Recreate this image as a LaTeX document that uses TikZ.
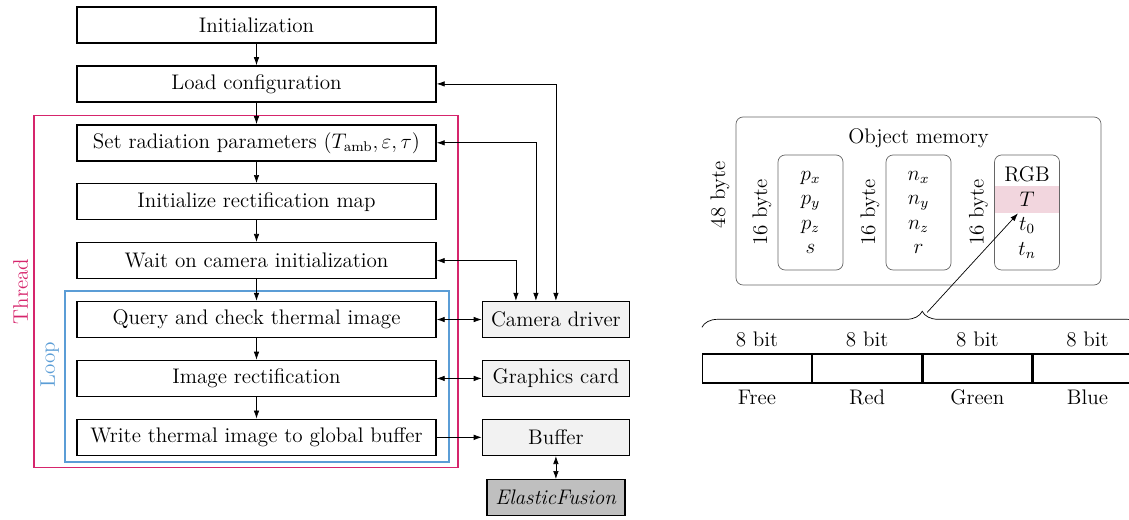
\documentclass[tikz,border=0pt]{standalone}
\usepackage{amsmath}
\usepackage{xcolor}
\usepackage{tikz}
\usetikzlibrary{arrows.meta,positioning,calc,backgrounds,decorations.pathreplacing}

\definecolor{threadcol}{RGB}{214,37,108}
\definecolor{loopcol}{RGB}{91,157,214}
\definecolor{tmark}{RGB}{242,214,222}

\begin{document}
\begin{tikzpicture}[
  node distance=0.43cm and 0.9cm,
  box/.style={draw, thick, minimum width=7.18cm, minimum height=0.72cm, align=center, font=\large},
  ext/.style={draw, thick, fill=gray!10, minimum width=2.94cm, minimum height=0.72cm, align=center, font=\large},
  frame/.style={draw=#1, line width=1pt},
  mem/.style={draw=black!60, rounded corners=4pt, minimum width=7.3cm, minimum height=3.36cm},
  field/.style={draw=black!60, rounded corners=4pt, minimum width=1.3cm, minimum height=2.3cm, align=center, font=\large},
  tband/.style={fill=tmark, minimum width=1.3cm, minimum height=0.54cm, inner sep=0pt},
  side/.style={rotate=90, anchor=south, font=\large},
  bitbox/.style={draw, thick, minimum width=2.175cm, minimum height=0.58cm},
  lbl/.style={font=\large},
  arr/.style={-{Latex[length=1.6mm, width=1.1mm]}},
  biarr/.style={{Latex[length=1.6mm, width=1.1mm]}-{Latex[length=1.6mm, width=1.1mm]}}
]
\useasboundingbox (0,0) rectangle (22.58,-10.4);

% program flow
\node[box] (init) at (5.13,-0.5) {Initialization};
\node[box, below=of init] (load) {Load configuration};
\node[box, below=of load] (setrad) {Set radiation parameters $(T_{\mathrm{amb}},\varepsilon,\tau)$};
\node[box, below=of setrad] (initmap) {Initialize rectification map};
\node[box, below=of initmap] (wait) {Wait on camera initialization};
\node[box, below=of wait] (query) {Query and check thermal image};
\node[box, below=of query] (rectify) {Image rectification};
\node[box, below=of rectify] (write) {Write thermal image to global buffer};

% external parts
\node[ext, right=of query] (cam) {Camera driver};
\node[ext, right=of rectify] (gpu) {Graphics card};
\node[ext, right=of write] (buf) {Buffer};
\node[ext, fill=gray!50, minimum width=2.76cm, below=0.46cm of buf] (ef) {\textit{ElasticFusion}};

% thread and loop frames
\coordinate (thrtl) at ([xshift=-0.84cm, yshift=0.17cm]setrad.north west);
\coordinate (thrbr) at ([xshift=0.42cm, yshift=-0.23cm]write.south east);
\draw[frame=threadcol] (thrtl) rectangle (thrbr);
\node[side, text=threadcol] (thrlbl) at ($(thrtl)!0.5!(thrtl |- thrbr)$) {Thread};
\coordinate (looptl) at ([xshift=-0.22cm, yshift=0.2cm]query.north west);
\coordinate (loopbr) at ([xshift=0.24cm, yshift=-0.12cm]write.south east);
\draw[frame=loopcol] (looptl) rectangle (loopbr);
\node[side, text=loopcol] (looplbl) at ($(looptl)!0.43!(looptl |- loopbr)$) {Loop};

\draw[arr] (init) -- (load);
\draw[arr] (load) -- (setrad);
\draw[arr] (setrad) -- (initmap);
\draw[arr] (initmap) -- (wait);
\draw[arr] (wait) -- (query);
\draw[arr] (query) -- (rectify);
\draw[arr] (rectify) -- (write);
\draw[biarr] (load.east) -| (cam.north);
\draw[biarr] (setrad.east) -| ([xshift=-0.4cm]cam.north);
\draw[biarr] (wait.east) -| ([xshift=-0.8cm]cam.north);
\draw[biarr] (query) -- (cam);
\draw[biarr] (rectify) -- (gpu);
\draw[arr] (write) -- (buf);
\draw[biarr] (buf) -- (ef);

% object memory layout
\node[mem] (mem) at (18.37,-4.02) {};
\node[lbl] (memtitle) at ([yshift=-0.44cm]mem.north) {Object memory};
\node[side] (membytes) at ([yshift=0.12cm]mem.west) {48 byte};
\node[tband] (tband) at (20.54,-3.99) {};
\node[field] (fpos) at (16.21,-4.25) {$p_x$\\$p_y$\\$p_z$\\$s$};
\node[field] (fnorm) at (18.37,-4.25) {$n_x$\\$n_y$\\$n_z$\\$r$};
\node[field] (fcol) at (20.54,-4.25) {RGB\\$T$\\$t_0$\\$t_n$};
\node[side] (posbytes) at (fpos.west) {16 byte};
\node[side] (normbytes) at (fnorm.west) {16 byte};
\node[side] (colbytes) at (fcol.west) {16 byte};

% colour word
\node[bitbox] (bfree) at (15.14,-7.37) {};
\node[bitbox, right=0cm of bfree] (bred) {};
\node[bitbox, right=0cm of bred] (bgreen) {};
\node[bitbox, right=0cm of bgreen] (bblue) {};
\node[lbl, above=0cm of bfree] (bfreesz) {8 bit};
\node[lbl, above=0cm of bred] (bredsz) {8 bit};
\node[lbl, above=0cm of bgreen] (bgreensz) {8 bit};
\node[lbl, above=0cm of bblue] (bbluesz) {8 bit};
\node[lbl, below=0cm of bfree] (bfreename) {Free};
\node[lbl, below=0cm of bred] (bredname) {Red};
\node[lbl, below=0cm of bgreen] (bgreenname) {Green};
\node[lbl, below=0cm of bblue] (bbluename) {Blue};
\draw[decorate, decoration={brace, amplitude=0.32cm}] ([yshift=0.52cm]bfree.north west) -- ([yshift=0.52cm]bblue.north east);
\coordinate (btip) at ($(bfree.north west)!0.5!(bblue.north east)+(0.1,0.82)$);
\draw[arr] (btip) -- ([xshift=-0.18cm]tband.south);
\end{tikzpicture}
\end{document}
